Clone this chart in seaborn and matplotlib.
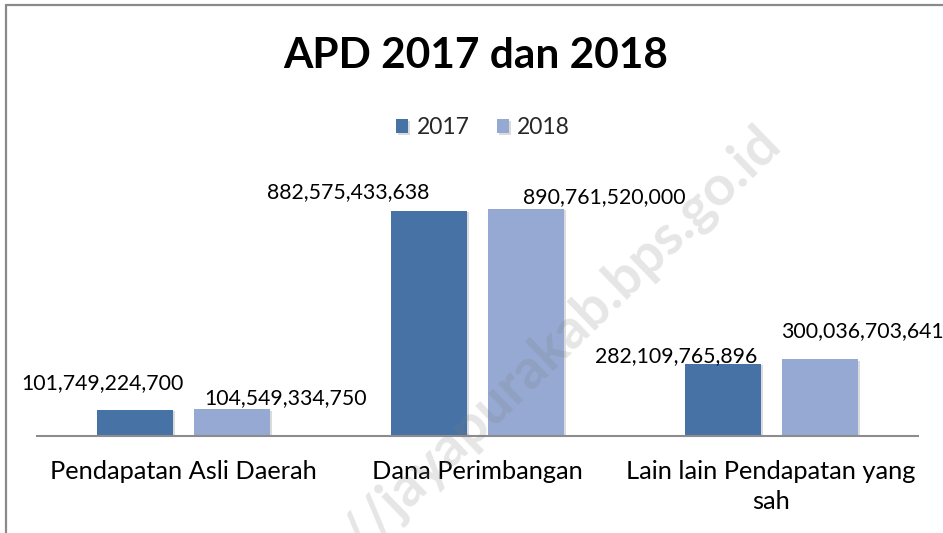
import matplotlib
matplotlib.use("Agg")
import matplotlib.pyplot as plt
import matplotlib.patheffects as pe
import seaborn as sns
import pandas as pd

# ---- data ----
categories = ["Pendapatan Asli Daerah", "Dana Perimbangan", "Lain lain Pendapatan yang sah"]
tick_labels = ["Pendapatan Asli Daerah", "Dana Perimbangan", "Lain lain Pendapatan yang\nsah"]
years = ["2017", "2018"]
values_2017 = [101749224700, 882575433638, 282109765896]
values_2018 = [104549334750, 890761520000, 300036703641]
title = "APD 2017 dan 2018"
watermark = "http://jayapurakab.bps.go.id"

df = pd.DataFrame({
    "Kategori": categories * 2,
    "Tahun": [years[0]] * 3 + [years[1]] * 3,
    "Nilai": values_2017 + values_2018,
})

colors = {"2017": "#4672A6", "2018": "#95A9D2"}
FONT = "Lato"

sns.set_theme(style="white")
plt.rcParams["font.family"] = [FONT, "DejaVu Sans"]

fig = plt.figure(figsize=(9.43, 5.33), dpi=100)
ax = fig.add_axes([37 / 943, 1 - 436 / 533, 881 / 943, 255 / 533])

sns.barplot(data=df, x="Kategori", y="Nilai", hue="Tahun", palette=colors,
            width=0.66, gap=0.215, ax=ax, legend=True, saturation=1)

ax.set_xlim(-0.5, 2.5)
ax.set_ylim(0, 1e12)
ax.set_xlabel("")
ax.set_ylabel("")
ax.set_yticks([])
ax.set_xticks(range(len(categories)))
ax.set_xticklabels(tick_labels, fontsize=18.3, color="#000000", linespacing=1.4)
ax.tick_params(axis="x", length=0, pad=17)
for s in ["top", "right", "left"]:
    ax.spines[s].set_visible(False)
ax.spines["bottom"].set_color("#8c8c8c")
ax.spines["bottom"].set_linewidth(1.5)

# bar shadows
for p in ax.patches:
    p.set_path_effects([pe.SimplePatchShadow(offset=(1.5, -1.0), shadow_rgbFace="#999999", alpha=0.35),
                        pe.Normal()])
    p.set_edgecolor("none")

# data labels (manual offsets in px, converted to points)
offsets_px = {
    "2017": [(-33, 27), (-81, 19), (-47, 8)],
    "2018": [(53, 11), (78, 12), (43, 28)],
}
for ci, cont in enumerate(ax.containers):
    yr = years[ci]
    vals = values_2017 if yr == "2017" else values_2018
    for bi, bar in enumerate(cont):
        cx = bar.get_x() + bar.get_width() / 2
        h = bar.get_height()
        dx, dy = offsets_px[yr][bi]
        ax.annotate(f"{vals[bi]:,}", xy=(cx, h), xytext=(dx * 0.72, dy * 0.72),
                    textcoords="offset points", ha="center", va="center",
                    fontsize=15.3, color="#000000", zorder=5)

# legend
handles, labels = ax.get_legend_handles_labels()
ax.get_legend().remove()
fig.legend(handles, labels, loc="center", bbox_to_anchor=(483 / 943, 1 - 128 / 533),
           ncol=2, frameon=False, fontsize=16.5, handlelength=0.55, handleheight=0.55,
           handletextpad=0.35, columnspacing=1.2)

# title
fig.text(476 / 943, 1 - 56 / 533, title, ha="center", va="center",
         fontsize=30.5, fontweight="bold", color="#000000")

# chart border
fig.add_artist(plt.Line2D([6 / 943, 1], [1 - 5 / 533, 1 - 5 / 533], transform=fig.transFigure,
                          color="#8a8a8a", linewidth=1.6))
fig.add_artist(plt.Line2D([6 / 943, 6 / 943], [0, 1 - 5 / 533], transform=fig.transFigure,
                          color="#8a8a8a", linewidth=1.6))

# watermark
fig.text(772 / 943, 1 - 134 / 533, watermark, ha="right", va="center", rotation=44,
         rotation_mode="anchor", fontsize=40, fontweight="bold", color="#808080",
         alpha=0.2, zorder=10)

fig.savefig("out.png", dpi=100)
